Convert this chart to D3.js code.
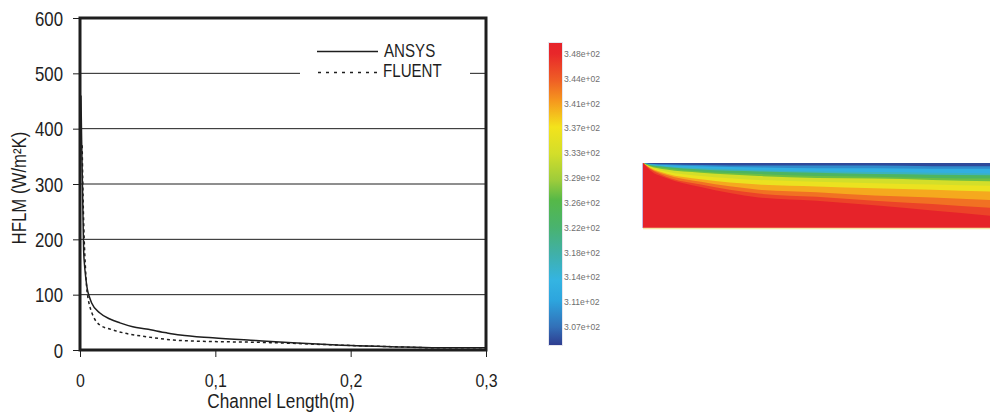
<!DOCTYPE html>
<html><head><meta charset="utf-8">
<script src="https://cdn.jsdelivr.net/npm/d3@7"></script>
<style>body{margin:0;background:#fff} text{font-family:"Liberation Sans",Arial,sans-serif}</style>
</head><body><svg id="c" width="990" height="413"></svg>
<script>
// ---- line chart data ----
const ansysX = [0.0007, 0.0012, 0.0018, 0.0023, 0.0027, 0.0033, 0.0042, 0.0054, 0.0068, 0.0086, 0.0147, 0.0221, 0.0295, 0.039, 0.049, 0.064, 0.074, 0.098, 0.13, 0.157, 0.19, 0.23, 0.265, 0.3];
const ansysY = [460, 380, 300, 230, 180, 155, 132, 110, 97, 85, 67, 56, 49, 42, 38, 31, 27, 22, 17, 13, 9, 6, 4, 4];
const fluentX = [0.0016, 0.002, 0.0025, 0.0031, 0.004, 0.0049, 0.0062, 0.0078, 0.0096, 0.0147, 0.022, 0.032, 0.049, 0.069, 0.086, 0.103, 0.13, 0.157, 0.19, 0.23, 0.265, 0.3];
const fluentY = [370, 310, 250, 200, 150, 114, 90, 74, 62, 45, 38, 31, 24, 18, 16, 15, 14, 12, 9, 6, 4, 4];
const yTicks = [0, 100, 200, 300, 400, 500, 600];
const xTicks = [0, 0.1, 0.2, 0.3];
const xTickLabels = ["0", "0,1", "0,2", "0,3"];
const seriesNames = ["ANSYS", "FLUENT"];

// ---- colour bar ----
const colorbarLabels = ["3.48e+02","3.44e+02","3.41e+02","3.37e+02","3.33e+02","3.29e+02","3.26e+02","3.22e+02","3.18e+02","3.14e+02","3.11e+02","3.07e+02"];
const colorStopTemps = [349.6, 348, 344, 341, 337, 333, 329, 326, 322, 318, 314, 311, 307, 304.3];
const colorStopColors = ["#e6232a","#e8272a","#ef5f25","#f5961e","#f3e31c","#d3de2a","#9dcc3b","#55b848","#49b36e","#40b0a8","#34b4e2","#2da5de","#3270b8","#2e3d90"];

// ---- contour (isotherm depth y/H at stations along channel, m) ----
const contourStations = [0, 0.006, 0.02, 0.05, 0.1, 0.15, 0.2, 0.25, 0.3];
const iso311 = [0, .01, .02, .03, .04, .04, .04, .05, .05];
const iso314 = [0, .02, .03, .05, .07, .08, .08, .09, .09];
const iso318 = [0, .02, .05, .08, .11, .13, .14, .15, .16];
const iso322 = [0, .03, .06, .10, .13, .15, .17, .18, .19];
const iso326 = [0, .04, .08, .13, .17, .20, .21, .23, .24];
const iso329 = [0, .05, .10, .15, .20, .23, .24, .26, .28];
const iso333 = [0, .06, .13, .20, .26, .29, .31, .33, .35];
const iso337 = [0, .07, .16, .25, .33, .36, .39, .41, .44];
const iso341 = [0, .08, .18, .29, .41, .45, .50, .53, .57];
const iso344 = [0, .09, .21, .33, .47, .52, .58, .63, .69];
const iso348 = [0, .11, .23, .37, .53, .58, .65, .73, .81];
const bandTemps = [305, 309, 313, 316.5, 323.5, 327, 333, 336, 340, 343, 346, 349.5];

const svg = d3.select("#c");
const SQ = 0.84;
const ink = "#1e1e1e";

const x = d3.scaleLinear().domain([0, 0.3]).range([80, 486]);
const y = d3.scaleLinear().domain([0, 600]).range([350, 18]);

// gridlines
svg.append("g").selectAll("line").data(yTicks.filter(d => d > 0 && d < 600)).join("line")
  .attr("x1", x(0)).attr("x2", x(0.3)).attr("y1", d => y(d)).attr("y2", d => y(d))
  .attr("stroke", ink).attr("stroke-width", 1);

// curves
svg.append("clipPath").attr("id", "pc").append("rect")
  .attr("x", x(0)).attr("y", y(600)).attr("width", x(0.3) - x(0)).attr("height", y(0) - y(600));
const line = d3.line().x(d => x(d[0])).y(d => y(d[1])).curve(d3.curveMonotoneX);
const g = svg.append("g").attr("clip-path", "url(#pc)");
g.append("path").datum(d3.zip(fluentX, fluentY)).attr("d", line)
  .attr("fill", "none").attr("stroke", ink).attr("stroke-width", 1.5).attr("stroke-dasharray", "3,3");
g.append("path").datum(d3.zip(ansysX, ansysY)).attr("d", line)
  .attr("fill", "none").attr("stroke", ink).attr("stroke-width", 1.5);

// legend
svg.append("rect").attr("x", 300).attr("y", 38).attr("width", 170).attr("height", 46).attr("fill", "#fff");
const leg = svg.append("g");
leg.append("line").attr("x1", 317).attr("x2", 378).attr("y1", 51.5).attr("y2", 51.5).attr("stroke", ink).attr("stroke-width", 1.5);
leg.append("line").attr("x1", 318).attr("x2", 378).attr("y1", 72.5).attr("y2", 72.5).attr("stroke", ink).attr("stroke-width", 1.5).attr("stroke-dasharray", "3,5");
leg.selectAll("text").data(seriesNames).join("text")
  .attr("transform", (d, i) => `translate(${i ? 383 : 384},${i ? 77 : 56.5}) scale(${SQ},1)`)
  .attr("font-size", 18).attr("fill", ink).text(d => d);

// frame
svg.append("rect").attr("x", x(0)).attr("y", y(600)).attr("width", x(0.3) - x(0)).attr("height", y(0) - y(600))
  .attr("fill", "none").attr("stroke", ink).attr("stroke-width", 3);

// axes
const ya = svg.append("g").attr("transform", `translate(${x(0)},0)`)
  .call(d3.axisLeft(y).tickValues(yTicks).tickSize(7).tickFormat(d3.format("d")));
ya.select(".domain").remove();
ya.selectAll(".tick line").attr("stroke", ink);
ya.selectAll(".tick text").attr("font-size", 20).attr("fill", ink).attr("font-family", null)
  .attr("x", -17 / SQ).attr("dy", "0.36em").attr("transform", `scale(${SQ},1)`);

const xa = svg.append("g").attr("transform", `translate(0,${y(0)})`)
  .call(d3.axisBottom(x).tickValues(xTicks).tickSize(7).tickFormat((d, i) => xTickLabels[i]));
xa.select(".domain").remove();
xa.selectAll(".tick line").attr("stroke", ink);
xa.selectAll(".tick text").attr("font-size", 19).attr("fill", ink).attr("font-family", null)
  .attr("y", 37).attr("dy", 0).attr("transform", `scale(${SQ},1)`);

svg.append("text").attr("transform", `translate(281,408) scale(${SQ},1)`)
  .attr("text-anchor", "middle").attr("font-size", 20.5).attr("fill", ink).text("Channel Length(m)");
svg.append("text").attr("transform", `translate(26,188) rotate(-90) scale(${SQ},1)`)
  .attr("text-anchor", "middle").attr("font-size", 20).attr("fill", ink).text("HFLM (W/m²K)");

// colour scale
const color = d3.scaleLinear().domain(colorStopTemps).range(colorStopColors).interpolate(d3.interpolateRgb);

// colour bar
const cbY = d3.scaleLinear().domain([colorStopTemps[0], colorStopTemps[colorStopTemps.length - 1]]).range([43, 345]);
const defs = svg.append("defs");
const grad = defs.append("linearGradient").attr("id", "cb").attr("x1", 0).attr("x2", 0).attr("y1", 0).attr("y2", 1);
grad.selectAll("stop").data(colorStopTemps).join("stop")
  .attr("offset", d => (cbY(d) - 43) / (345 - 43)).attr("stop-color", d => color(d));
svg.append("rect").attr("x", 548.5).attr("y", 42.5).attr("width", 14).attr("height", 303)
  .attr("fill", "none").attr("stroke", "#e6e6ee").attr("stroke-width", 1);
svg.append("rect").attr("x", 549).attr("y", 43).attr("width", 13).attr("height", 302).attr("fill", "url(#cb)");
const cbL = d3.scalePoint().domain(colorbarLabels).range([54, 327]);
svg.append("g").selectAll("text").data(colorbarLabels).join("text")
  .attr("x", 564).attr("y", d => cbL(d)).attr("dy", "0.35em")
  .attr("font-size", 8.6).attr("fill", "#6f6f6f").text(d => d);

// contour
const cx = d3.scaleLinear().domain([0, 0.3]).range([643, 990]);
const cy = d3.scaleLinear().domain([0, 1]).range([163, 228]);
const isos = [contourStations.map(() => 0), iso311, iso314, iso318, iso322, iso326, iso329, iso333, iso337, iso341, iso344, iso348];
const area = d3.area().x(d => cx(d[0])).y0(cy(1)).y1(d => cy(d[1])).curve(d3.curveMonotoneX);
const cg = svg.append("g");
isos.forEach((iso, k) => {
  cg.append("path").datum(d3.zip(contourStations, iso)).attr("d", area).attr("fill", color(bandTemps[k]));
});
cg.append("line").attr("x1", cx(0)).attr("x2", cx(0.3)).attr("y1", cy(1) + 0.5).attr("y2", cy(1) + 0.5)
  .attr("stroke", "#f4e6a6").attr("stroke-width", 1.5);
cg.append("line").attr("x1", cx(0) - 0.5).attr("x2", cx(0) - 0.5).attr("y1", cy(0)).attr("y2", cy(1))
  .attr("stroke", "#c9b8e0").attr("stroke-width", 1);
</script></body></html>
